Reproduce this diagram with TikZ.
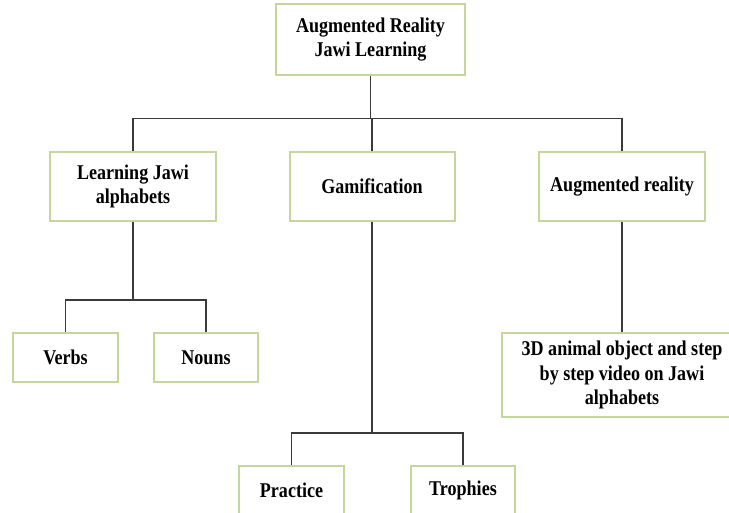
\documentclass[tikz,border=0pt]{standalone}
\usepackage{fontspec}
\setmainfont{Liberation Serif}[FakeStretch=0.86]
\usepackage{xcolor}
\usepackage{tikz}
\usetikzlibrary{calc}
\definecolor{boxgreen}{HTML}{C3D69B}
\definecolor{linegray}{HTML}{3A3A3A}

\begin{document}
\begin{tikzpicture}[x=1pt,y=-1pt]
%
\tikzstyle{bx}=[draw=boxgreen,line width=2pt,shape=rectangle,fill=white,align=center,
  inner sep=0pt,font=\bfseries\fontsize{21}{24.5}\selectfont]
\tikzstyle{ln}=[draw=linegray,line width=1.2pt]
%
\clip (0,0) rectangle (729,513);
\useasboundingbox (0,0) rectangle (729,513);
%
\node[bx,minimum width=189pt,minimum height=71pt](ar) at (370.5,39.5){Augmented Reality\\Jawi Learning};
%
\node[bx,minimum width=166pt,minimum height=69pt](ljw) at (133,186.5){Learning Jawi\\alphabets};
\node[bx,minimum width=165pt,minimum height=69pt](gam) at (372,186.5){Gamification};
\node[bx,minimum width=166pt,minimum height=69pt](aug) at (622,186.5){Augmented reality};
%
\node[bx,minimum width=105pt,minimum height=49pt](verbs) at (65.5,357.5){Verbs};
\node[bx,minimum width=104pt,minimum height=49pt](nouns) at (206,357.5){Nouns};
\node[bx,minimum width=240pt,minimum height=84pt](obj) at (622,375){3D animal object and step\\by step video on Jawi\\alphabets};
%
\node[bx,minimum width=105pt,minimum height=49pt](prac) at (291.5,490.5){Practice};
\node[bx,minimum width=104pt,minimum height=49pt](troph) at (463,490.5){Trophies};
%
\draw[ln] (ar.south) -- ++(0,42.5) -| (ljw.north);
\draw[ln] (ar.south) -- ++(0,42.5) -| (gam.north);
\draw[ln] (ar.south) -- ++(0,42.5) -| (aug.north);
%
\draw[ln] (ljw.south) -- ++(0,78) -| (verbs.north);
\draw[ln] (ljw.south) -- ++(0,78) -| (nouns.north);
%
\draw[ln] (gam.south) -- ++(0,211) -| (prac.north);
\draw[ln] (gam.south) -- ++(0,211) -| (troph.north);
%
\draw[ln] (aug.south) -- (obj.north);
\end{tikzpicture}
\end{document}
